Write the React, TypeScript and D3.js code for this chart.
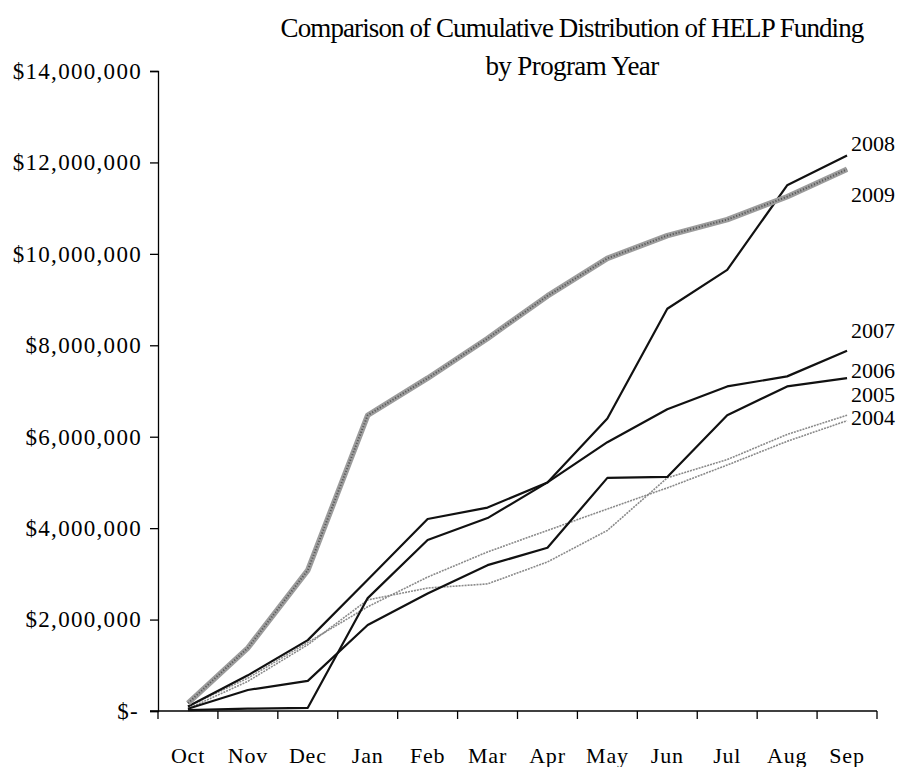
import React, { useEffect, useRef } from 'react';
import * as d3 from 'd3';

const months = ['Oct', 'Nov', 'Dec', 'Jan', 'Feb', 'Mar', 'Apr', 'May', 'Jun', 'Jul', 'Aug', 'Sep'];
const yTicks = [0, 2000000, 4000000, 6000000, 8000000, 10000000, 12000000, 14000000];

// cumulative funding, millions of dollars
const fy2009 = [0.17, 1.38, 3.08, 6.47, 7.28, 8.15, 9.08, 9.9, 10.4, 10.75, 11.25, 11.85];
const fy2008 = [0.1, 0.78, 1.55, 2.87, 4.2, 4.45, 5.0, 6.4, 8.8, 9.65, 11.5, 12.15];
const fy2007 = [0.02, 0.05, 0.07, 2.47, 3.74, 4.22, 5.0, 5.88, 6.6, 7.1, 7.32, 7.88];
const fy2006 = [0.05, 0.46, 0.66, 1.88, 2.57, 3.19, 3.57, 5.1, 5.12, 6.47, 7.1, 7.28];
const fy2005 = [0.05, 0.65, 1.45, 2.43, 2.69, 2.78, 3.26, 3.95, 5.1, 5.5, 6.05, 6.47];
const fy2004 = [0.1, 0.72, 1.5, 2.28, 2.93, 3.48, 3.95, 4.42, 4.88, 5.38, 5.9, 6.35];

const series = [
  { name: '2004', values: fy2004 },
  { name: '2005', values: fy2005 },
  { name: '2006', values: fy2006 },
  { name: '2007', values: fy2007 },
  { name: '2008', values: fy2008 },
  { name: '2009', values: fy2009 },
];

// how each line is drawn, and where its end label sits relative to the last point
const styles: Record<string, { kind: string; dy: number }> = {
  '2004': { kind: 'dotted', dy: -3 },
  '2005': { kind: 'dotted', dy: -21 },
  '2006': { kind: 'solid', dy: -8 },
  '2007': { kind: 'solid', dy: -20 },
  '2008': { kind: 'solid', dy: -12 },
  '2009': { kind: 'thick', dy: 25 },
};

const W = 904;
const H = 767;
const FONT = '"Liberation Serif", "Times New Roman", Times, serif';

export default function App() {
  const ref = useRef<SVGSVGElement>(null);

  useEffect(() => {
    if (!ref.current) return;
    const svg = d3.select(ref.current);
    svg.selectAll('*').remove();

    const x = d3.scaleBand().domain(months).range([158, 877]);
    const y = d3.scaleLinear().domain([0, 14000000]).range([711, 71]);
    const cx = (m: string) => (x(m) || 0) + x.bandwidth() / 2;

    // title
    const title = svg.append('g')
      .attr('font-family', FONT)
      .attr('font-size', 27)
      .attr('text-anchor', 'middle')
      .attr('fill', '#000');
    title.append('text').attr('x', 572).attr('y', 37).attr('letter-spacing', -0.9)
      .text('Comparison of Cumulative Distribution of HELP Funding');
    title.append('text').attr('x', 572).attr('y', 75).attr('letter-spacing', -0.6)
      .text('by Program Year');

    // y axis
    const yAxis = svg.append('g')
      .attr('transform', 'translate(158,0)')
      .call(d3.axisLeft(y).tickValues(yTicks).tickSize(8).tickPadding(8)
        .tickFormat(d => (+d === 0 ? '$-' : '$' + d3.format(',')(+d))));
    yAxis.select('.domain').attr('stroke', '#000').attr('stroke-width', 1.3);
    yAxis.selectAll('.tick line').attr('stroke', '#000').attr('stroke-width', 1.3);
    yAxis.selectAll('.tick text')
      .attr('font-family', FONT).attr('font-size', 23).attr('fill', '#000')
      .attr('letter-spacing', 1.3);
    yAxis.selectAll<SVGTextElement, number>('.tick text')
      .filter(d => d === 0)
      .attr('dx', -3);

    // x axis
    const xAxis = svg.append('g')
      .attr('transform', 'translate(0,711)')
      .call(d3.axisBottom(x).tickSize(0).tickPadding(36));
    xAxis.select('.domain').remove();
    xAxis.selectAll('.tick text')
      .attr('font-family', FONT).attr('font-size', 22).attr('fill', '#000')
      .attr('letter-spacing', 0.8);
    xAxis.append('line')
      .attr('x1', 150).attr('x2', 877).attr('y1', 0).attr('y2', 0)
      .attr('stroke', '#000').attr('stroke-width', 1.3);
    const edges = months.map(m => x(m) || 0).concat([877]);
    xAxis.selectAll('.edge').data(edges).enter().append('line')
      .attr('x1', d => d).attr('x2', d => d).attr('y1', 0).attr('y2', 8)
      .attr('stroke', '#000').attr('stroke-width', 1.3);

    const line = d3.line<number>()
      .x((_, i) => cx(months[i]))
      .y(d => y(d * 1000000));

    const g = svg.append('g').attr('fill', 'none').attr('stroke-linejoin', 'round');
    series.forEach(s => {
      const kind = styles[s.name].kind;
      if (kind === 'thick') {
        g.append('path').attr('d', line(s.values)).attr('stroke', '#9c9c9c').attr('stroke-width', 5.5);
        g.append('path').attr('d', line(s.values)).attr('stroke', '#5a5a5a')
          .attr('stroke-width', 2).attr('stroke-dasharray', '1.2,1.8');
      } else if (kind === 'dotted') {
        g.append('path').attr('d', line(s.values)).attr('stroke', '#8a8a8a')
          .attr('stroke-width', 1.6).attr('stroke-dasharray', '2,1');
      } else {
        g.append('path').attr('d', line(s.values)).attr('stroke', '#111').attr('stroke-width', 2.2);
      }
    });

    // end labels
    svg.append('g')
      .attr('font-family', FONT).attr('font-size', 22).attr('fill', '#000')
      .selectAll('text').data(series).enter().append('text')
      .attr('x', 851)
      .attr('y', s => y(s.values[s.values.length - 1] * 1000000) + styles[s.name].dy)
      .attr('dy', '0.35em')
      .text(s => s.name);
  }, []);

  return (
    <div style={{ position: 'absolute', left: 0, top: 0, width: W, height: H, background: '#fff' }}>
      <svg ref={ref} width={W} height={H} />
    </div>
  );
}
